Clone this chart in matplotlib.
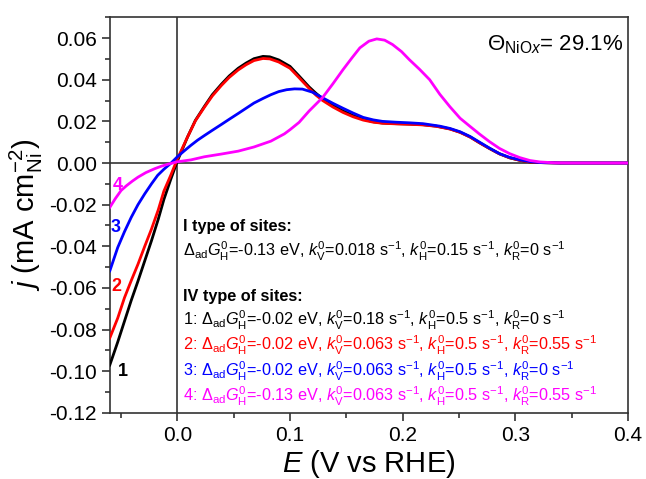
import matplotlib
matplotlib.use('Agg')
import matplotlib.pyplot as plt
from matplotlib.ticker import MultipleLocator

plt.rcParams['font.family'] = ['Liberation Sans', 'DejaVu Sans']
plt.rcParams['mathtext.fontset'] = 'custom'
plt.rcParams['mathtext.rm'] = 'Liberation Sans'
plt.rcParams['mathtext.it'] = 'Liberation Sans:italic'
plt.rcParams['mathtext.bf'] = 'Liberation Sans:bold'

# curve 1 (black)
E1 = [-0.060, -0.053, -0.047, -0.041, -0.035, -0.029, -0.023, -0.017, -0.012, -0.006,
      0.000, 0.009, 0.016, 0.024, 0.031, 0.039, 0.046, 0.054, 0.061, 0.068,
      0.076, 0.082, 0.090, 0.100, 0.108, 0.117, 0.123, 0.129, 0.138, 0.147,
      0.156, 0.165, 0.174, 0.182, 0.194, 0.206, 0.218, 0.230, 0.242, 0.251,
      0.260, 0.268, 0.277, 0.286, 0.295, 0.304, 0.313, 0.322, 0.340, 0.400]
j1 = [-0.097, -0.086, -0.076, -0.066, -0.0567, -0.047, -0.0373, -0.027, -0.0175, -0.008,
      0.001, 0.0125, 0.0205, 0.0272, 0.0328, 0.0378, 0.0418, 0.0455, 0.048, 0.0501,
      0.0512, 0.0510, 0.0495, 0.0464, 0.0418, 0.0365, 0.0335, 0.0308, 0.0276, 0.0250,
      0.0228, 0.0210, 0.0198, 0.0192, 0.0189, 0.0187, 0.0184, 0.0177, 0.0164, 0.0148,
      0.0125, 0.0098, 0.0070, 0.0044, 0.0025, 0.0013, 0.0005, 0.0002, 0.0, 0.0]

# curve 2 (red)
E2 = [-0.060, -0.053, -0.047, -0.041, -0.035, -0.029, -0.023, -0.017, -0.012, -0.006,
      0.000, 0.009, 0.016, 0.024, 0.031, 0.039, 0.046, 0.054, 0.061, 0.068,
      0.076, 0.082, 0.090, 0.100, 0.108, 0.117, 0.123, 0.129, 0.138, 0.147,
      0.156, 0.165, 0.174, 0.182, 0.194, 0.206, 0.218, 0.230, 0.242, 0.251,
      0.260, 0.268, 0.277, 0.286, 0.295, 0.304, 0.313, 0.322, 0.340, 0.400]
j2 = [-0.084, -0.0745, -0.0647, -0.0565, -0.0486, -0.040, -0.0317, -0.0225, -0.0135, -0.006,
      0.002, 0.0125, 0.0203, 0.0268, 0.0322, 0.0372, 0.0411, 0.0447, 0.0472, 0.0492,
      0.0502, 0.0500, 0.0485, 0.0455, 0.0410, 0.0358, 0.0326, 0.0300, 0.0269, 0.0243,
      0.0222, 0.0206, 0.0196, 0.0191, 0.0188, 0.0186, 0.0183, 0.0176, 0.0163, 0.0147,
      0.0124, 0.0098, 0.0070, 0.0044, 0.0025, 0.0013, 0.0005, 0.0002, 0.0, 0.0]

# curve 3 (blue)
E3 = [-0.060, -0.053, -0.047, -0.041, -0.035, -0.029, -0.023, -0.0175, -0.012, -0.0056,
      0.000, 0.006, 0.012, 0.018, 0.024, 0.031, 0.039, 0.046, 0.054, 0.061,
      0.068, 0.076, 0.083, 0.090, 0.097, 0.104, 0.111, 0.120, 0.129, 0.138,
      0.147, 0.156, 0.165, 0.174, 0.182, 0.194, 0.206, 0.218, 0.233, 0.242,
      0.251, 0.260, 0.268, 0.277, 0.286, 0.295, 0.304, 0.313, 0.322, 0.340, 0.400]
j3 = [-0.0518, -0.0406, -0.033, -0.0261, -0.020, -0.0148, -0.010, -0.0059, -0.003, 0.0,
      0.003, 0.0058, 0.0085, 0.0110, 0.0132, 0.0157, 0.0185, 0.0210, 0.0238, 0.0263,
      0.0288, 0.0310, 0.0328, 0.0343, 0.0352, 0.0356, 0.0355, 0.0340, 0.0313, 0.0287,
      0.0263, 0.0240, 0.0219, 0.0207, 0.0200, 0.0196, 0.0193, 0.0189, 0.0177, 0.0166,
      0.0150, 0.0127, 0.0101, 0.0072, 0.0045, 0.0027, 0.0015, 0.0007, 0.0002, 0.0, 0.0]

# curve 4 (magenta)
E4 = [-0.060, -0.055, -0.050, -0.045, -0.040, -0.035, -0.028, -0.020, -0.014, -0.0086,
      0.000, 0.012, 0.024, 0.039, 0.054, 0.068, 0.083, 0.095, 0.100, 0.108,
      0.117, 0.129, 0.138, 0.147, 0.155, 0.162, 0.170, 0.177, 0.184, 0.191,
      0.199, 0.206, 0.215, 0.224, 0.233, 0.242, 0.251, 0.260, 0.268, 0.277,
      0.286, 0.295, 0.304, 0.313, 0.322, 0.335, 0.350, 0.400]
j4 = [-0.0213, -0.0170, -0.0132, -0.0108, -0.0087, -0.0068, -0.0046, -0.0027, -0.0015, -0.0006,
      0.0006, 0.0015, 0.0030, 0.0043, 0.0057, 0.0077, 0.0105, 0.0140, 0.0160, 0.0195,
      0.0250, 0.0315, 0.0380, 0.0448, 0.0505, 0.0553, 0.0585, 0.0596, 0.0590, 0.0569,
      0.0535, 0.0496, 0.0450, 0.0400, 0.0330, 0.0270, 0.0215, 0.0175, 0.0140, 0.0103,
      0.0070, 0.0045, 0.0026, 0.0012, 0.0005, 0.0001, 0.0, 0.0]

colors = ['black', '#ff0000', '#0000ff', '#ff00ff']
curve_ids = ['1', '2', '3', '4']

info_lines = [
    r'1: $\Delta_{\rm ad}G^{0}_{\rm H}$=-0.02 eV, $k^{0}_{\rm V}$=0.18 s$^{-1}$, $k^{0}_{\rm H}$=0.5 s$^{-1}$, $k^{0}_{\rm R}$=0 s$^{-1}$',
    r'2: $\Delta_{\rm ad}G^{0}_{\rm H}$=-0.02 eV, $k^{0}_{\rm V}$=0.063 s$^{-1}$, $k^{0}_{\rm H}$=0.5 s$^{-1}$, $k^{0}_{\rm R}$=0.55 s$^{-1}$',
    r'3: $\Delta_{\rm ad}G^{0}_{\rm H}$=-0.02 eV, $k^{0}_{\rm V}$=0.063 s$^{-1}$, $k^{0}_{\rm H}$=0.5 s$^{-1}$, $k^{0}_{\rm R}$=0 s$^{-1}$',
    r'4: $\Delta_{\rm ad}G^{0}_{\rm H}$=-0.13 eV, $k^{0}_{\rm V}$=0.063 s$^{-1}$, $k^{0}_{\rm H}$=0.5 s$^{-1}$, $k^{0}_{\rm R}$=0.55 s$^{-1}$',
]

fig = plt.figure(figsize=(6.46, 4.79), dpi=100)
ax = fig.add_axes([0.170, 0.138, 0.802, 0.826])

ax.axhline(0, color='#333333', lw=1.2, zorder=1)
ax.axvline(0, color='#333333', lw=1.2, zorder=1)

for E, j, c in zip([E1, E2, E3, E4], [j1, j2, j3, j4], colors):
    ax.plot(E, j, color=c, lw=2.0, zorder=3)

ax.set_xlim(-0.06, 0.4)
ax.set_ylim(-0.12, 0.07)
ax.xaxis.set_minor_locator(MultipleLocator(0.05))
ax.yaxis.set_minor_locator(MultipleLocator(0.01))
ax.set_xticks([0.0, 0.1, 0.2, 0.3, 0.4])
ax.set_yticks([-0.12, -0.10, -0.08, -0.06, -0.04, -0.02, 0.0, 0.02, 0.04, 0.06])
ax.set_xticklabels(['0.0', '0.1', '0.2', '0.3', '0.4'])
ax.set_yticklabels(['-0.12', '-0.10', '-0.08', '-0.06', '-0.04', '-0.02', '0.00', '0.02', '0.04', '0.06'])
ax.tick_params(which='major', direction='out', length=6, width=1.2, labelsize=15, color='#333333')
ax.tick_params(which='minor', direction='out', length=3.5, width=1.2, color='#333333')
for s in ax.spines.values():
    s.set_color('#333333')
    s.set_linewidth(1.2)

ax.set_xlabel(r'$E$ (V vs RHE)', fontsize=21, labelpad=2)
ax.set_ylabel(r'$j$ (mA cm$^{-2}_{\rm Ni}$)', fontsize=21, labelpad=3)

ax.text(0.99, 0.96, r'$\Theta_{{\rm NiO}x}$= 29.1%', transform=ax.transAxes,
        ha='right', va='top', fontsize=16)

# curve numbers
lab_E = [-0.0486, -0.0545, -0.0545, -0.0533]
lab_j = [-0.1002, -0.0595, -0.0309, -0.0107]
for x, y, t, c in zip(lab_E, lab_j, curve_ids, colors):
    ax.text(x, y, t, color=c, fontsize=13, fontweight='bold', ha='center', va='center')

# parameter text block
x0 = 183 / 646
fig.text(x0, 1 - 226 / 479, 'I type of sites:', fontsize=11.7, fontweight='bold', va='center')
fig.text(x0, 1 - 251 / 479,
         r'$\Delta_{\rm ad}G^{0}_{\rm H}$=-0.13 eV, $k^{0}_{\rm V}$=0.018 s$^{-1}$, $k^{0}_{\rm H}$=0.15 s$^{-1}$, $k^{0}_{\rm R}$=0 s$^{-1}$',
         fontsize=11.7, va='center')
fig.text(x0, 1 - 296 / 479, 'IV type of sites:', fontsize=11.7, fontweight='bold', va='center')
for i, (s, c) in enumerate(zip(info_lines, colors)):
    fig.text(x0, 1 - (320 + 25.5 * i) / 479, s, fontsize=11.7, color=c, va='center')

fig.savefig('out.png', dpi=100)
